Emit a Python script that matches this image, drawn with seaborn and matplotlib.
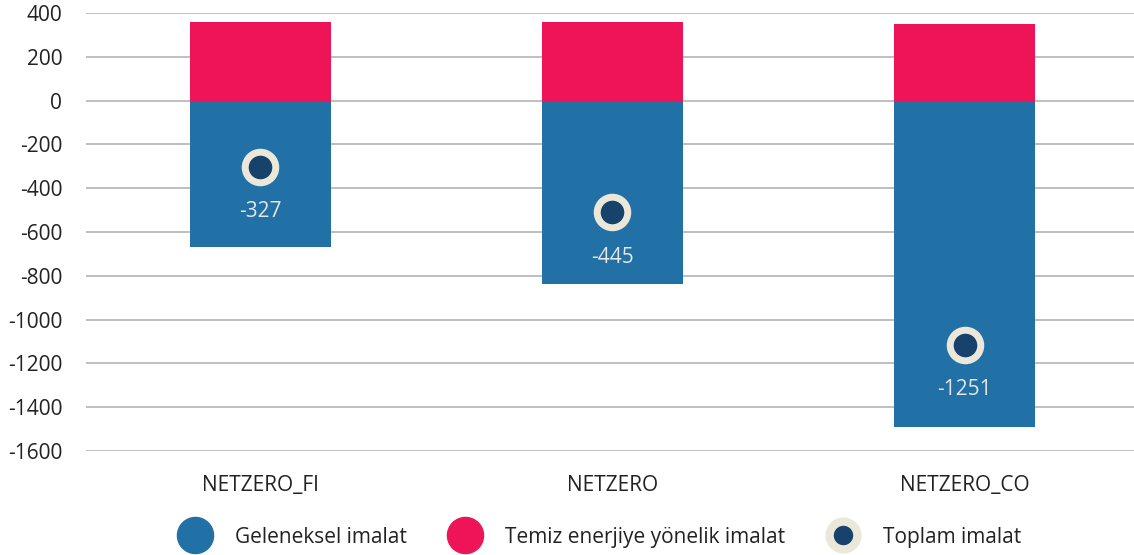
import matplotlib
matplotlib.use("Agg")
import matplotlib.pyplot as plt
from matplotlib.lines import Line2D
import seaborn as sns
import pandas as pd

scenarios = ["NETZERO_FI", "NETZERO", "NETZERO_CO"]
conventional = [-667, -838, -1489]
clean = [358, 358, 349]
total_pos = [-302, -509, -1116]
total_label = ["-327", "-445", "-1251"]

blue = "#2170a6"
pink = "#ee1458"
navy = "#16426b"
cream = "#ebe8da"

sns.set_style("white")
plt.rcParams['font.family'] = ['Open Sans', 'DejaVu Sans']
plt.rcParams['axes.unicode_minus'] = False

df = pd.DataFrame({"scenario": scenarios, "conv": conventional,
                   "clean": clean, "total": total_pos})

fig = plt.figure(figsize=(11.34, 5.55), dpi=100)
ax = fig.add_axes([0.0758, 0.1874, 0.93, 0.7892])

sns.barplot(data=df, x="scenario", y="conv", color=blue, width=0.4,
            saturation=1, linewidth=0, ax=ax, zorder=2)
sns.barplot(data=df, x="scenario", y="clean", color=pink, width=0.4,
            saturation=1, linewidth=0, ax=ax, zorder=2)
sns.stripplot(data=df, x="scenario", y="total", jitter=False, color=navy,
              size=22, edgecolor=cream, linewidth=5, ax=ax, zorder=4)

for i, (v, lab) in enumerate(zip(total_pos, total_label)):
    ax.annotate(lab, (i, v), xytext=(0, -45), textcoords="offset pixels",
                ha="center", va="center", color="#e6e6e6", fontsize=15, zorder=5)

ax.set_ylim(-1600, 400)
ax.set_xlim(-0.495, 2.5)
ax.set_yticks(range(-1600, 401, 200))
ax.yaxis.grid(True, color="#bfbfbf", linewidth=1.4, zorder=0)
ax.set_axisbelow(True)
for s in ax.spines.values():
    s.set_visible(False)
ax.tick_params(axis="both", length=0, labelsize=15, colors="#222222")
ax.tick_params(axis="y", pad=17)
ax.tick_params(axis="x", pad=17)
ax.set_xlabel("")
ax.set_ylabel("")

handles = [
    Line2D([], [], marker="o", linestyle="", markersize=26, markerfacecolor=blue,
           markeredgecolor=blue, label="Geleneksel imalat"),
    Line2D([], [], marker="o", linestyle="", markersize=26, markerfacecolor=pink,
           markeredgecolor=pink, label="Temiz enerjiye yönelik imalat"),
    Line2D([], [], marker="o", linestyle="", markersize=20, markerfacecolor=navy,
           markeredgecolor=cream, markeredgewidth=6, label="Toplam imalat"),
]
fig.legend(handles=handles, loc="center", bbox_to_anchor=(0.527, 0.032), ncol=3,
           frameon=False, fontsize=15, handletextpad=0.9, columnspacing=1.8,
           labelcolor="#222222")

fig.savefig("out.png", dpi=100)
